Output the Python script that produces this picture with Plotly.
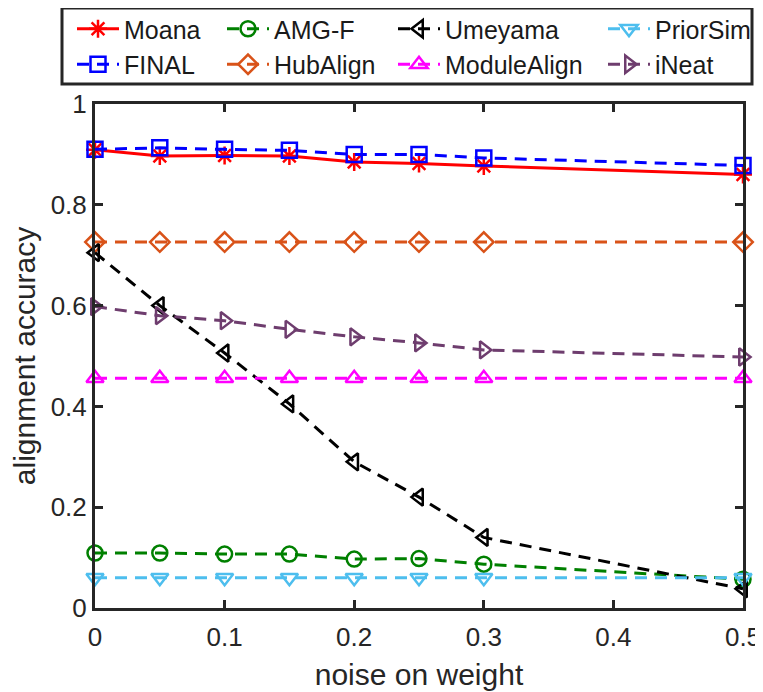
import plotly.graph_objects as go

noise = [0, 0.05, 0.1, 0.15, 0.2, 0.25, 0.3, 0.5]

moana = [0.909, 0.897, 0.898, 0.897, 0.885, 0.882, 0.877, 0.860]
final = [0.910, 0.913, 0.910, 0.908, 0.900, 0.900, 0.893, 0.878]
amgf = [0.109, 0.109, 0.107, 0.107, 0.097, 0.098, 0.087, 0.057]
hubalign = [0.726, 0.726, 0.726, 0.726, 0.726, 0.726, 0.726, 0.726]
umeyama = [0.705, 0.600, 0.506, 0.405, 0.290, 0.220, 0.140, 0.038]
modulealign = [0.456, 0.456, 0.456, 0.456, 0.456, 0.456, 0.456, 0.456]
priorsim = [0.060, 0.060, 0.060, 0.060, 0.060, 0.060, 0.060, 0.060]
ineat = [0.598, 0.580, 0.570, 0.553, 0.538, 0.526, 0.512, 0.498]

xticks = [0, 0.1, 0.2, 0.3, 0.4, 0.5]
xticklabels = ["0", "0.1", "0.2", "0.3", "0.4", "0.5"]
yticks = [0, 0.2, 0.4, 0.6, 0.8, 1]
yticklabels = ["0", "0.2", "0.4", "0.6", "0.8", "1"]

series = [
    # name, data, color, symbol, dash, legend
    ("Moana", moana, "#FF0000", "asterisk-open", "solid", "legend"),
    ("FINAL", final, "#0000FF", "square-open", "12px,8px", "legend"),
    ("AMG-F", amgf, "#008000", "circle-open", "12px,8px", "legend2"),
    ("HubAlign", hubalign, "#D95319", "diamond-open", "12px,8px", "legend2"),
    ("Umeyama", umeyama, "#000000", "triangle-left-open", "12px,8px", "legend3"),
    ("ModuleAlign", modulealign, "#FF00FF", "triangle-up-open", "12px,8px", "legend3"),
    ("PriorSim", priorsim, "#4DBEEE", "triangle-down-open", "12px,8px", "legend4"),
    ("iNeat", ineat, "#6E3D6E", "triangle-right-open", "12px,8px", "legend4"),
]

fig = go.Figure()
for name, ys, color, sym, dash, leg in series:
    fig.add_trace(go.Scatter(
        x=noise, y=ys, name=name, mode="lines+markers",
        line=dict(color=color, width=3, dash=dash),
        marker=dict(symbol=sym, size=15, color=color, line=dict(color=color, width=2.5)),
        cliponaxis=False, legend=leg,
    ))

# the page body has an 8px margin; lay out in page pixels
OFF = 8
W, H = 763 - OFF, 692 - OFF
ml, mr, mt, mb = 95 - OFF, 20, 104 - OFF, 84
pw = W - ml - mr
ph = H - mt - mb

def px2x(px):
    return (px - OFF - ml) / pw

def py2y(py):
    return (H - mb - (py - OFF)) / ph

legend_style = dict(
    font=dict(family="Liberation Sans, Arial, sans-serif", size=25, color="#1a1a1a"),
    bgcolor="rgba(0,0,0,0)", borderwidth=0, orientation="v",
    xanchor="left", yanchor="top", itemwidth=42, tracegroupgap=0,
)
leg_x = [72, 222, 393, 603]
legs = {}
for i, key in enumerate(["legend", "legend2", "legend3", "legend4"]):
    legs[key] = dict(legend_style, x=px2x(leg_x[i]), y=py2y(6))

fig.update_layout(
    width=W, height=H,
    margin=dict(l=ml, r=mr, t=mt, b=mb, autoexpand=False),
    paper_bgcolor="white", plot_bgcolor="white",
    font=dict(family="Liberation Sans, Arial, sans-serif", color="#262626"),
    showlegend=True,
    **legs,
    shapes=[dict(type="rect", xref="paper", yref="paper",
                 x0=px2x(62), x1=px2x(752), y0=py2y(84), y1=py2y(8),
                 line=dict(color="#262626", width=3), fillcolor="white", layer="below")],
    xaxis=dict(
        range=[0, 0.5], tickvals=xticks, ticktext=xticklabels,
        showline=True, linecolor="#262626", linewidth=3, mirror="allticks",
        ticks="inside", ticklen=8, tickwidth=3, tickcolor="#262626",
        showgrid=False, zeroline=False, ticklabelstandoff=4,
        tickfont=dict(size=26, color="#262626"),
        title=dict(text="noise on weight", font=dict(size=30, color="#262626"), standoff=13),
    ),
    yaxis=dict(
        range=[0, 1], tickvals=yticks, ticktext=yticklabels,
        showline=True, linecolor="#262626", linewidth=3, mirror="allticks",
        ticks="inside", ticklen=8, tickwidth=3, tickcolor="#262626",
        showgrid=False, zeroline=False, ticklabelstandoff=0,
        tickfont=dict(size=26, color="#262626"),
        title=dict(text="alignment accuracy", font=dict(size=30, color="#262626"), standoff=19),
    ),
)

fig.write_html("out.html")
